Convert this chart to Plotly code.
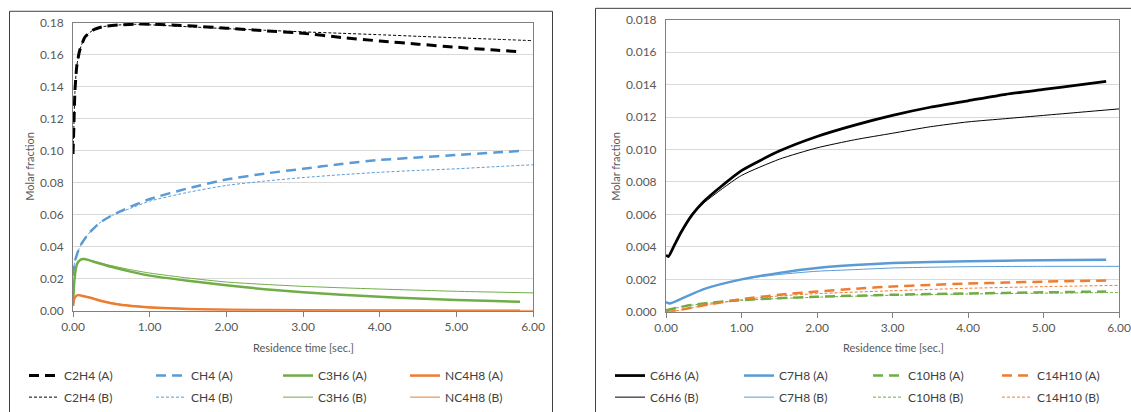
import plotly.graph_objects as go

# ---------------- data ----------------
# Left panel
t_c2h4_a = [0, 0.01, 0.025, 0.05, 0.09, 0.16, 0.27, 0.4, 0.6, 0.8, 1.0, 1.5, 2.0, 2.5, 3.0, 3.5, 4.0, 4.5, 5.0, 5.5, 5.83]
c2h4_a = [0.098, 0.113, 0.137, 0.153, 0.163, 0.1712, 0.1755, 0.1775, 0.1785, 0.1790, 0.1790, 0.1780, 0.1765, 0.1749, 0.1733, 0.1707, 0.1685, 0.1665, 0.1646, 0.1628, 0.1618]
t_c2h4_b = [0, 0.01, 0.025, 0.05, 0.09, 0.16, 0.27, 0.4, 0.6, 0.8, 1.0, 1.5, 2.0, 2.5, 3.0, 3.5, 4.0, 4.5, 5.0, 5.5, 6.0]
c2h4_b = [0.098, 0.113, 0.137, 0.153, 0.163, 0.1712, 0.1755, 0.1775, 0.1785, 0.1789, 0.1786, 0.1774, 0.1762, 0.1752, 0.1742, 0.1733, 0.1724, 0.1714, 0.1705, 0.1696, 0.1687]

t_ch4_a = [0, 0.02, 0.05, 0.1, 0.2, 0.35, 0.5, 0.75, 1.0, 1.5, 2.0, 2.5, 3.0, 3.5, 4.0, 4.5, 5.0, 5.5, 5.83]
ch4_a = [0.022, 0.030, 0.035, 0.041, 0.048, 0.055, 0.0594, 0.065, 0.0698, 0.0765, 0.0820, 0.0857, 0.0887, 0.0917, 0.0942, 0.0958, 0.0973, 0.0988, 0.0998]
t_ch4_b = [0, 0.02, 0.05, 0.1, 0.2, 0.35, 0.5, 0.75, 1.0, 1.5, 2.0, 2.5, 3.0, 3.5, 4.0, 4.5, 5.0, 5.5, 6.0]
ch4_b = [0.022, 0.030, 0.035, 0.041, 0.048, 0.055, 0.0594, 0.064, 0.0685, 0.0740, 0.0783, 0.0810, 0.0832, 0.0850, 0.0865, 0.0877, 0.0887, 0.0900, 0.0912]

t_c3h6_a = [0, 0.02, 0.05, 0.1, 0.15, 0.25, 0.5, 0.75, 1.0, 1.5, 2.0, 2.5, 3.0, 3.5, 4.0, 4.5, 5.0, 5.5, 5.83]
c3h6_a = [0.004, 0.020, 0.029, 0.032, 0.0323, 0.031, 0.0275, 0.0245, 0.0220, 0.0188, 0.0160, 0.0135, 0.0116, 0.0100, 0.0088, 0.0077, 0.0068, 0.0061, 0.0057]
t_c3h6_b = [0, 0.02, 0.05, 0.1, 0.15, 0.25, 0.5, 0.75, 1.0, 1.5, 2.0, 2.5, 3.0, 3.5, 4.0, 4.5, 5.0, 5.5, 6.0]
c3h6_b = [0.004, 0.020, 0.029, 0.032, 0.0323, 0.0312, 0.0282, 0.0257, 0.0236, 0.0205, 0.0180, 0.0165, 0.0153, 0.0144, 0.0136, 0.0129, 0.0122, 0.0117, 0.0112]

t_nc4h8_a = [0, 0.02, 0.06, 0.1, 0.2, 0.4, 0.6, 0.8, 1.0, 1.5, 2.0, 3.0, 4.0, 5.0, 5.83]
nc4h8_a = [0.003, 0.008, 0.0098, 0.0096, 0.0085, 0.0058, 0.0039, 0.0028, 0.0021, 0.0012, 0.0007, 0.0003, 0.0002, 0.0001, 0.0001]
t_nc4h8_b = [0, 0.02, 0.06, 0.1, 0.2, 0.4, 0.6, 0.8, 1.0, 1.5, 2.0, 3.0, 4.0, 5.0, 6.0]
nc4h8_b = [0.003, 0.008, 0.0098, 0.0096, 0.0086, 0.0060, 0.0042, 0.0031, 0.0024, 0.0014, 0.0009, 0.0005, 0.0004, 0.0003, 0.0003]

# Right panel
t_c6h6_a = [0, 0.03, 0.1, 0.2, 0.35, 0.5, 0.75, 1.0, 1.5, 2.0, 2.5, 3.0, 3.5, 4.0, 4.5, 5.0, 5.5, 5.83]
c6h6_a = [0.0035, 0.0034, 0.0040, 0.0049, 0.0060, 0.0068, 0.0078, 0.0087, 0.0099, 0.0108, 0.0115, 0.0121, 0.0126, 0.0130, 0.0134, 0.0137, 0.0140, 0.0142]
t_c6h6_b = [0, 0.03, 0.1, 0.2, 0.35, 0.5, 0.75, 1.0, 1.5, 2.0, 2.5, 3.0, 3.5, 4.0, 4.5, 5.0, 5.5, 6.0]
c6h6_b = [0.0035, 0.0034, 0.0040, 0.0049, 0.0060, 0.0067, 0.0076, 0.0084, 0.0094, 0.0101, 0.0106, 0.0110, 0.0114, 0.0117, 0.0119, 0.0121, 0.0123, 0.0125]

t_c7h8_a = [0, 0.05, 0.2, 0.5, 1.0, 1.5, 2.0, 2.5, 3.0, 4.0, 5.0, 5.83]
c7h8_a = [0.0006, 0.00052, 0.0008, 0.0014, 0.0020, 0.0024, 0.0027, 0.00288, 0.0030, 0.00312, 0.00318, 0.0032]
t_c7h8_b = [0, 0.05, 0.2, 0.5, 1.0, 1.5, 2.0, 2.5, 3.0, 4.0, 5.0, 6.0]
c7h8_b = [0.0006, 0.00052, 0.0008, 0.0014, 0.0020, 0.0023, 0.0025, 0.0026, 0.0027, 0.00278, 0.0028, 0.0028]

t_c10h8_a = [0, 0.25, 0.5, 1.0, 1.5, 2.0, 3.0, 4.0, 5.0, 5.83]
c10h8_a = [0.0001, 0.00035, 0.00052, 0.00072, 0.00084, 0.00093, 0.00105, 0.00113, 0.00120, 0.00125]
t_c10h8_b = [0, 0.25, 0.5, 1.0, 1.5, 2.0, 3.0, 4.0, 5.0, 6.0]
c10h8_b = [0.0001, 0.00035, 0.0005, 0.0007, 0.00082, 0.0009, 0.00102, 0.0011, 0.00115, 0.00119]

t_c14h10_a = [0, 0.1, 0.3, 0.5, 1.0, 1.5, 2.0, 2.5, 3.0, 3.5, 4.0, 4.5, 5.0, 5.83]
c14h10_a = [0.0, 0.00004, 0.00022, 0.0004, 0.00078, 0.00105, 0.00125, 0.00142, 0.00156, 0.00166, 0.00174, 0.0018, 0.00186, 0.00193]
t_c14h10_b = [0, 0.1, 0.3, 0.5, 1.0, 1.5, 2.0, 3.0, 4.0, 5.0, 6.0]
c14h10_b = [0.0, 0.00004, 0.0002, 0.0004, 0.00075, 0.00098, 0.00112, 0.0013, 0.00145, 0.00155, 0.00163]

x_ticks = [0, 1, 2, 3, 4, 5, 6]
left_y_ticks = [0, 0.02, 0.04, 0.06, 0.08, 0.10, 0.12, 0.14, 0.16, 0.18]
right_y_ticks = [0, 0.002, 0.004, 0.006, 0.008, 0.010, 0.012, 0.014, 0.016, 0.018]

# ---------------- figure ----------------
W, H = 1131, 412
def fx(p):
    return p / W
def fy(p):
    return 1 - p / H

BLACK, BLUE, GREEN, ORANGE = "#000000", "#5b9bd5", "#70ad47", "#ed7d31"
DASH_A = "10px,6px"
DOT_B = "3px,2px"
FONT = "Lato, Open Sans, sans-serif"

fig = go.Figure()

def add(t, v, name, color, width, dash, xa, ya, legend):
    fig.add_trace(go.Scatter(
        x=t, y=v, name=name, mode="lines",
        line=dict(color=color, width=width, dash=dash, shape="spline", smoothing=0.6),
        xaxis=xa, yaxis=ya, legend=legend, hoverinfo="skip"))

# left panel, row 1 (A)
add(t_c2h4_a, c2h4_a, "C2H4 (A)", BLACK, 3, DASH_A, "x", "y", "legend")
add(t_ch4_a, ch4_a, "CH4 (A)", BLUE, 2.5, DASH_A, "x", "y", "legend")
add(t_c3h6_a, c3h6_a, "C3H6 (A)", GREEN, 2.5, "solid", "x", "y", "legend")
add(t_nc4h8_a, nc4h8_a, "NC4H8 (A)", ORANGE, 2.5, "solid", "x", "y", "legend")
# left panel, row 2 (B)
add(t_c2h4_b, c2h4_b, "C2H4 (B)", BLACK, 1, DOT_B, "x", "y", "legend2")
add(t_ch4_b, ch4_b, "CH4 (B)", BLUE, 1, DOT_B, "x", "y", "legend2")
add(t_c3h6_b, c3h6_b, "C3H6 (B)", GREEN, 1, "solid", "x", "y", "legend2")
add(t_nc4h8_b, nc4h8_b, "NC4H8 (B)", ORANGE, 1, "solid", "x", "y", "legend2")
# right panel, row 1 (A)
add(t_c6h6_a, c6h6_a, "C6H6 (A)", BLACK, 2.75, "solid", "x2", "y2", "legend3")
add(t_c7h8_a, c7h8_a, "C7H8 (A)", BLUE, 2.5, "solid", "x2", "y2", "legend3")
add(t_c10h8_a, c10h8_a, "C10H8 (A)", GREEN, 2.5, DASH_A, "x2", "y2", "legend3")
add(t_c14h10_a, c14h10_a, "C14H10 (A)", ORANGE, 2.5, DASH_A, "x2", "y2", "legend3")
# right panel, row 2 (B)
add(t_c6h6_b, c6h6_b, "C6H6 (B)", BLACK, 1, "solid", "x2", "y2", "legend4")
add(t_c7h8_b, c7h8_b, "C7H8 (B)", BLUE, 1, "solid", "x2", "y2", "legend4")
add(t_c10h8_b, c10h8_b, "C10H8 (B)", GREEN, 1, DOT_B, "x2", "y2", "legend4")
add(t_c14h10_b, c14h10_b, "C14H10 (B)", ORANGE, 1, DOT_B, "x2", "y2", "legend4")

tickfont = dict(family=FONT, size=12, color="#595959")
xcommon = dict(range=[0, 6], tickvals=x_ticks, tickformat=".2f", ticks="outside", ticklen=5,
               tickcolor="#808080", showline=True, linecolor="#808080", linewidth=1, mirror=True,
               showgrid=False, zeroline=False, tickfont=tickfont, automargin=False, fixedrange=True)
ycommon = dict(ticks="", showline=True, linecolor="#808080", linewidth=1, mirror=True,
               showgrid=True, gridcolor="#d9d9d9", gridwidth=1, zeroline=False,
               tickfont=tickfont, automargin=False, ticklabelstandoff=6, fixedrange=True)

fig.update_layout(
    width=W, height=H,
    margin=dict(l=0, r=0, t=0, b=0),
    paper_bgcolor="white", plot_bgcolor="white",
    font=dict(family=FONT, color="#595959"),
    xaxis=dict(domain=[fx(73), fx(533)], anchor="y", **xcommon),
    yaxis=dict(domain=[fy(317), fy(23)], anchor="x", range=[0, 0.18], tickvals=left_y_ticks,
               tickformat=".2f", **ycommon),
    xaxis2=dict(domain=[fx(666), fx(1119)], anchor="y2", **xcommon),
    yaxis2=dict(domain=[fy(318), fy(20)], anchor="x2", range=[0, 0.018], tickvals=right_y_ticks,
                tickformat=".3f", **ycommon),
    showlegend=True,
)

legfont = dict(family=FONT, size=12, color="#404040")
def leg(x, y, ew):
    return dict(orientation="h", x=x, y=y, xanchor="left", yanchor="middle",
                entrywidth=ew, entrywidthmode="pixels", font=legfont,
                bgcolor="rgba(0,0,0,0)", itemwidth=30, traceorder="normal", itemclick=False,
                itemdoubleclick=False)

fig.update_layout(
    legend=leg(fx(24), fy(383), 82),
    legend2=leg(fx(24), fy(405), 82),
    legend3=leg(fx(610), fy(383), 84),
    legend4=leg(fx(610), fy(405), 84),
)

# axis titles
title_font = dict(family=FONT, size=11, color="#595959")
for cx, cy, txt, ang in [
    (30, 170, "Molar fraction", -90),
    (616, 170, "Molar fraction", -90),
    (303, 354, "Residence time [sec.]", 0),
    (893, 354, "Residence time [sec.]", 0),
]:
    fig.add_annotation(x=fx(cx), y=fy(cy), xref="paper", yref="paper", text=txt,
                       textangle=ang, showarrow=False, font=title_font,
                       xanchor="center", yanchor="middle")

# chart-area borders
fig.add_shape(type="rect", xref="paper", yref="paper", x0=fx(9.5), x1=fx(552.5),
              y0=-0.2, y1=fy(11.5), line=dict(color="#404040", width=1))
fig.add_shape(type="rect", xref="paper", yref="paper", x0=fx(595.5), x1=1.1,
              y0=-0.2, y1=fy(8.5), line=dict(color="#404040", width=1))

fig.write_html("out.html")
